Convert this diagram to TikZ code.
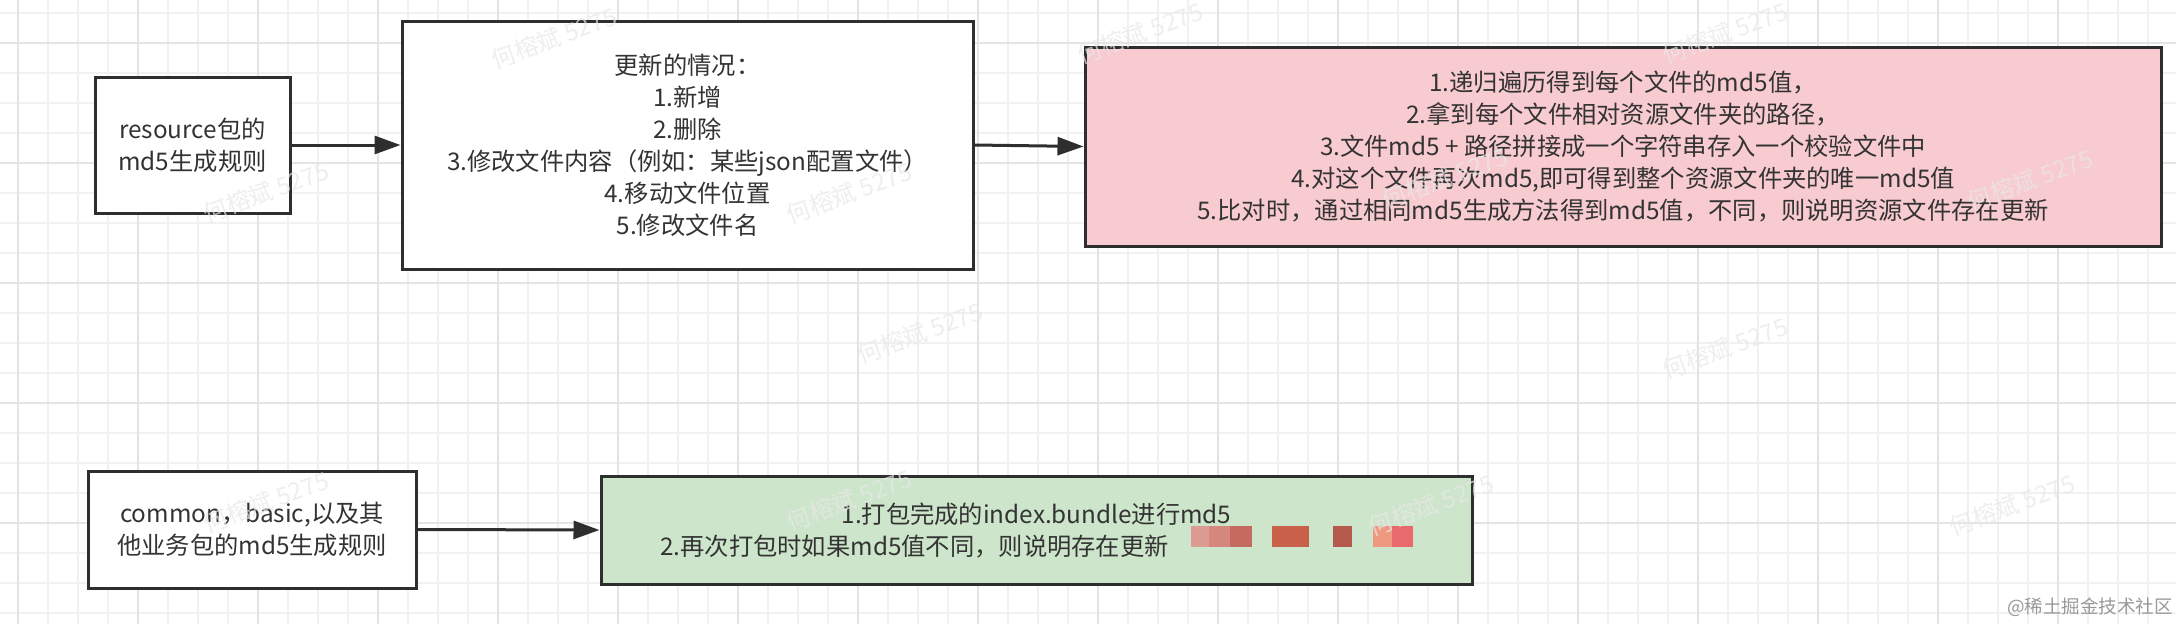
\documentclass[tikz,border=0pt]{standalone}
\usepackage{fontspec}
\setmainfont{Noto Sans CJK SC}
\usetikzlibrary{arrows.meta}
\definecolor{txt}{HTML}{333333}
\definecolor{bord}{HTML}{2E2E2E}
\definecolor{pinkfill}{HTML}{F8CBD0}
\definecolor{greenfill}{HTML}{CDE5CA}
\definecolor{gridminor}{HTML}{F1F1F1}
\definecolor{gridmajor}{HTML}{E4E4E4}
\newcommand{\redact}[2]{\textcolor[HTML]{#1}{\rule[8pt]{#2pt}{21pt}}}
\begin{document}
\begin{tikzpicture}[x=1pt,y=-1pt,
  box/.style={draw=bord,line width=3pt,fill=white,text=txt,align=center,
    inner sep=0pt,font=\fontsize{24.3}{32}\selectfont},
  conn/.style={draw=bord,line width=3pt,-{Triangle[length=26pt,width=18pt]}},
  wm/.style={text=black!9,text opacity=0.7,rotate=20,font=\fontsize{24}{24}\selectfont}]
\useasboundingbox (0,0) rectangle (2176,624);
\fill[white] (0,0) rectangle (2176,624);
% grid
\foreach \x in {18,48,...,2176} \draw[gridminor,line width=1.2pt] (\x,0) -- (\x,624);
\foreach \y in {13,43,...,624} \draw[gridminor,line width=1.2pt] (0,\y) -- (2176,\y);
\foreach \x in {18,138,...,2176} \draw[gridmajor,line width=1.4pt] (\x,0) -- (\x,624);
\foreach \y in {43,163,...,624} \draw[gridmajor,line width=1.4pt] (0,\y) -- (2176,\y);
% nodes
\node[box,minimum width=195pt,minimum height=136pt] (b1) at (192.5,145) {resource包的\\md5生成规则};
\node[box,minimum width=571pt,minimum height=248pt] (b2) at (687.5,145)
  {更新的情况：\\1.新增\\2.删除\\3.修改文件内容（例如：某些json配置文件）\\4.移动文件位置\\5.修改文件名};
\node[box,fill=pinkfill,minimum width=1076pt,minimum height=199pt] (b3) at (1623,146.5)
  {1.递归遍历得到每个文件的md5值，\\2.拿到每个文件相对资源文件夹的路径，\\3.文件md5 + 路径拼接成一个字符串存入一个校验文件中\\4.对这个文件再次md5,即可得到整个资源文件夹的唯一md5值\\5.比对时，通过相同md5生成方法得到md5值，不同，则说明资源文件存在更新};
\node[box,minimum width=328pt,minimum height=117pt] (b4) at (252,529.5)
  {common，basic,以及其\\他业务包的md5生成规则};
\node[box,fill=greenfill,minimum width=871pt,minimum height=108pt] (b5) at (1036.5,530)
  {1.打包完成的index.bundle进行md5\\2.再次打包时如果md5值不同，则说明存在更新\hspace{22pt}\redact{DC9C94}{18}\redact{D4877F}{21}\redact{C46A5E}{22}\hspace{20pt}\redact{C9604A}{37}\hspace{24pt}\redact{B45A4C}{19}\hspace{21pt}\redact{EF9A80}{19}\redact{E86A6C}{21}};
% connectors
\draw[conn] (b1.east) -- (b2.west);
\draw[conn] (b2.east) -- (b3.west);
\draw[conn] (b4.east) -- (b5.west);
% watermarks
\foreach \p/\q in {554/38,1140/33,1725/33,266/192,849/193,1445/178,2030/180,920/333,1725/348,266/502,849/500,1431/505,2012/505}
  \node[wm] at (\p,\q) {何榕斌 5275};
\node[text=black!40,font=\fontsize{18.5}{20}\selectfont] (wmark) at (2090,607) {@稀土掘金技术社区};
\end{tikzpicture}
\end{document}
